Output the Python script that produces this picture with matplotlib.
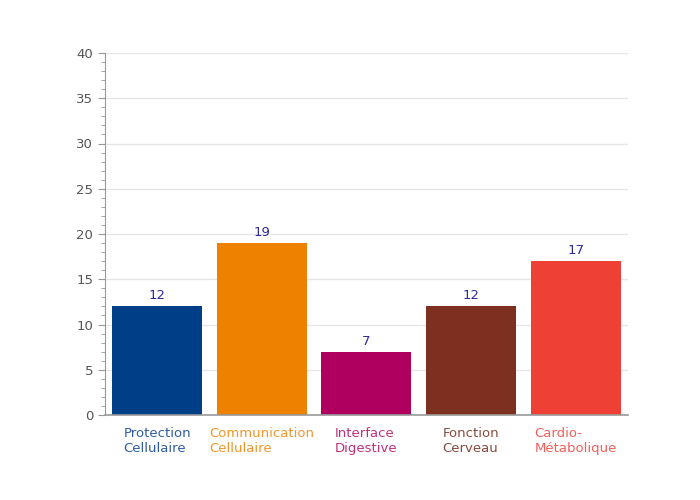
import matplotlib
matplotlib.use("Agg")
import matplotlib.pyplot as plt
from matplotlib.ticker import MultipleLocator

categories = ["Protection\nCellulaire", "Communication\nCellulaire", "Interface\nDigestive",
              "Fonction\nCerveau", "Cardio-\nMétabolique"]
values = [12, 19, 7, 12, 17]
colors = ["#003F87", "#EE8100", "#B0005F", "#7E3020", "#EE4035"]
label_colors = ["#2F5C9E", "#F0962A", "#C0307A", "#8A4A3C", "#F0605A"]

fig = plt.figure(figsize=(7, 5), dpi=100)
ax = fig.add_axes([0.15, 0.17, 0.747, 0.724])

x = range(len(values))
ax.bar(x, values, width=0.86, color=colors, zorder=2)

for i, v in enumerate(values):
    ax.text(i, v + 0.45, str(v), ha="center", va="bottom", fontsize=9.5, color="#2B2B9B")

ax.set_xlim(-0.5, 4.5)
ax.set_ylim(0, 40)
ax.yaxis.set_major_locator(MultipleLocator(5))
ax.yaxis.set_minor_locator(MultipleLocator(1))
ax.grid(axis="y", color="#E6E6E6", linewidth=1, zorder=0)

ax.set_xticks(list(x))
ax.set_xticklabels([])
ax.tick_params(axis="x", length=0)
for i, lab in enumerate(categories):
    ax.text(i, -1.35, lab, ha="center", va="top", multialignment="left",
            fontsize=9.5, color=label_colors[i], linespacing=1.15)

ax.tick_params(axis="y", which="major", length=5, color="#999999", labelcolor="#555555", labelsize=9.5)
ax.tick_params(axis="y", which="minor", length=3, color="#999999")

for s in ["top", "right"]:
    ax.spines[s].set_visible(False)
ax.spines["left"].set_color("#999999")
ax.spines["bottom"].set_color("#999999")
ax.spines["bottom"].set_linewidth(1.2)

fig.savefig("out.png", dpi=100)
